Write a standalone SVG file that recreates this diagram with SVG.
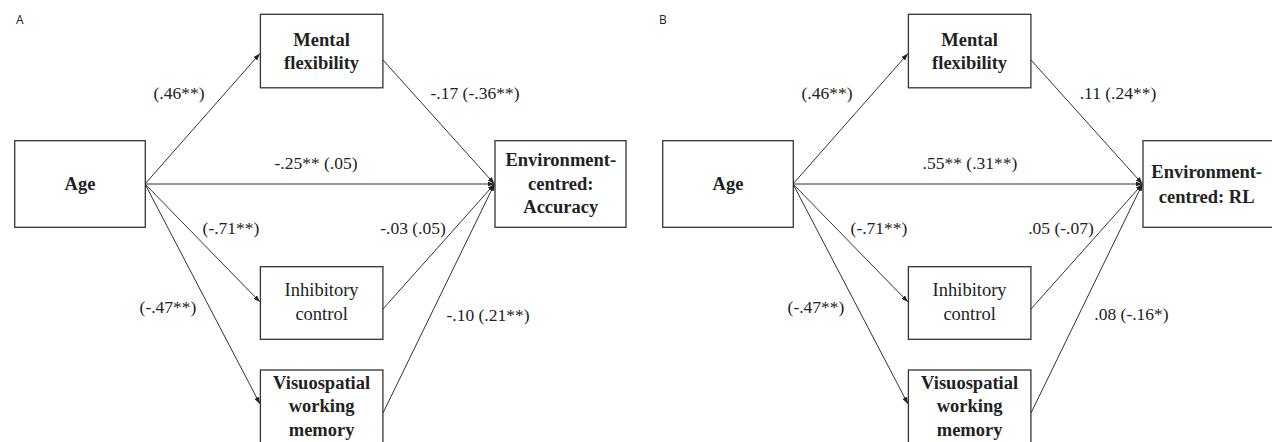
<svg xmlns="http://www.w3.org/2000/svg" width="1272" height="442" viewBox="0 0 1272 442">
<defs>
<marker id="arr" markerWidth="7" markerHeight="5" refX="7" refY="2.5" orient="auto" markerUnits="userSpaceOnUse">
<path d="M0,0 L7,2.5 L0,5 z" fill="#222"/>
</marker>
<style>
.box{fill:#fff;stroke:#333;stroke-width:1.3}
.edge{fill:none;stroke:#333;stroke-width:1;marker-end:url(#arr)}
.nb{font-family:"Liberation Serif","Times New Roman",serif;font-size:18.5px;font-weight:bold;fill:#222;text-anchor:middle}
.nr{font-family:"Liberation Serif","Times New Roman",serif;font-size:18.5px;fill:#222;text-anchor:middle}
.lbl{font-family:"Liberation Serif","Times New Roman",serif;font-size:17.5px;fill:#222;text-anchor:middle}
.pan{font-family:"Open Sans","Liberation Sans",sans-serif;font-size:12px;fill:#222}
</style>
</defs>
<rect width="1272" height="442" fill="#fff"/>

<text class="pan" x="16" y="24">A</text>
<text class="pan" x="659" y="24">B</text>

<g id="connectors">
<!-- Panel A -->
<line class="edge" x1="145" y1="184" x2="260" y2="53.5"/>
<line class="edge" x1="145" y1="184" x2="494.5" y2="184"/>
<line class="edge" x1="145" y1="184" x2="260" y2="302"/>
<line class="edge" x1="145" y1="184" x2="260" y2="404"/>
<line class="edge" x1="383" y1="60" x2="494.5" y2="184"/>
<line class="edge" x1="383" y1="309" x2="494.5" y2="184"/>
<line class="edge" x1="383" y1="413" x2="494.5" y2="184"/>
<!-- Panel B -->
<line class="edge" x1="793" y1="184" x2="908" y2="53.5"/>
<line class="edge" x1="793" y1="184" x2="1142.5" y2="184"/>
<line class="edge" x1="793" y1="184" x2="908" y2="302"/>
<line class="edge" x1="793" y1="184" x2="908" y2="404"/>
<line class="edge" x1="1031" y1="60" x2="1142.5" y2="184"/>
<line class="edge" x1="1031" y1="309" x2="1142.5" y2="184"/>
<line class="edge" x1="1031" y1="413" x2="1142.5" y2="184"/>
</g>

<g id="edge-labels">
<text class="lbl" x="179" y="99">(.46**)</text>
<text class="lbl" x="475" y="99">-.17 (-.36**)</text>
<text class="lbl" x="316" y="169">-.25** (.05)</text>
<text class="lbl" x="231" y="234">(-.71**)</text>
<text class="lbl" x="413" y="234">-.03 (.05)</text>
<text class="lbl" x="168" y="313">(-.47**)</text>
<text class="lbl" x="488" y="320.5">-.10 (.21**)</text>

<text class="lbl" x="827" y="99">(.46**)</text>
<text class="lbl" x="1118" y="99">.11 (.24**)</text>
<text class="lbl" x="970" y="169">.55** (.31**)</text>
<text class="lbl" x="879" y="234">(-.71**)</text>
<text class="lbl" x="1061" y="234">.05 (-.07)</text>
<text class="lbl" x="816" y="313">(-.47**)</text>
<text class="lbl" x="1131.5" y="320">.08 (-.16*)</text>
</g>

<!-- Panel A nodes -->
<g id="a-age">
<rect class="box" x="14.7" y="140.7" width="130.6" height="86.6"/>
<text class="nb" x="80" y="189.5">Age</text>
</g>
<g id="a-mental">
<rect class="box" x="260.4" y="14.3" width="122.5" height="73.5"/>
<text class="nb" x="321.6" y="46">Mental</text>
<text class="nb" x="321.6" y="69">flexibility</text>
</g>
<g id="a-inhib">
<rect class="box" x="260.4" y="266.7" width="122.5" height="72.6"/>
<text class="nr" x="321.6" y="296">Inhibitory</text>
<text class="nr" x="321.6" y="320">control</text>
</g>
<g id="a-visuo">
<rect class="box" x="260.4" y="370" width="122.5" height="80"/>
<text class="nb" x="321.6" y="388.5">Visuospatial</text>
<text class="nb" x="321.6" y="412">working</text>
<text class="nb" x="321.6" y="435.5">memory</text>
</g>
<g id="a-env">
<rect class="box" x="495" y="140.7" width="131" height="86.6"/>
<text class="nb" x="560.8" y="166">Environment-</text>
<text class="nb" x="560.8" y="189.5">centred:</text>
<text class="nb" x="560.8" y="213">Accuracy</text>
</g>

<!-- Panel B nodes -->
<g id="b-age">
<rect class="box" x="662.7" y="140.7" width="130.6" height="86.6"/>
<text class="nb" x="728" y="189.5">Age</text>
</g>
<g id="b-mental">
<rect class="box" x="908.4" y="14.3" width="122.5" height="73.5"/>
<text class="nb" x="969.6" y="46">Mental</text>
<text class="nb" x="969.6" y="69">flexibility</text>
</g>
<g id="b-inhib">
<rect class="box" x="908.4" y="266.7" width="122.5" height="72.6"/>
<text class="nr" x="969.6" y="296">Inhibitory</text>
<text class="nr" x="969.6" y="320">control</text>
</g>
<g id="b-visuo">
<rect class="box" x="908.4" y="370" width="122.5" height="80"/>
<text class="nb" x="969.6" y="388.5">Visuospatial</text>
<text class="nb" x="969.6" y="412">working</text>
<text class="nb" x="969.6" y="435.5">memory</text>
</g>
<g id="b-env">
<rect class="box" x="1143" y="140.7" width="140" height="86.6"/>
<text class="nb" x="1206.7" y="177.5">Environment-</text>
<text class="nb" x="1206.7" y="203">centred: RL</text>
</g>
</svg>
